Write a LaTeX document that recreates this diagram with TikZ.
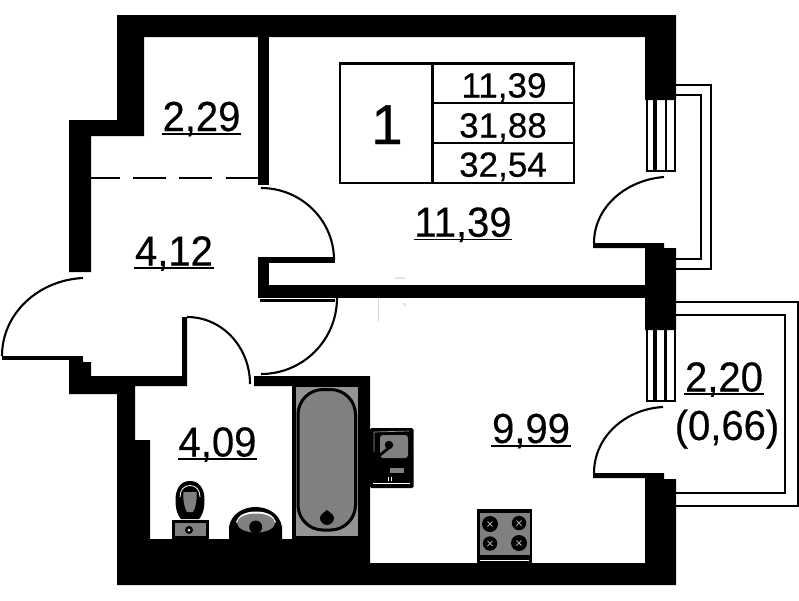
\documentclass[tikz,border=0pt]{standalone}
\usepackage{fontspec}
\setmainfont{Liberation Sans}[BoldFont={Liberation Sans},BoldFeatures={FakeBold=0.35}]
\newfontfamily\bigfont{Liberation Sans}[FakeBold=0.8]
\tikzset{
  wall/.style={fill=black,draw=none},
  doorarc/.style={draw=black,line width=2.1pt,fill=none},
  leaf/.style={fill=black,draw=none},
  balconyin/.style={draw=black,line width=2.4pt},
  balconyout/.style={draw=black,line width=2pt},
  gridline/.style={draw=black,line width=2.2pt},
  winthin/.style={draw=black,line width=2pt},
  winthick/.style={draw=black,line width=3.5pt},
  roomlabel/.style={inner sep=0pt,anchor=base,font=\fontsize{40}{40}\selectfont\bfseries},
  tablabel/.style={inner sep=0pt,anchor=base,font=\fontsize{35}{35}\selectfont\bfseries},
  ubar/.style={draw=black,line width=1.8pt},
  markx/.style={draw=black!35,line width=0.8pt},
}
\newcommand{\roombar}[1]{\draw[ubar] ([yshift=-2.8pt,xshift=-0.5pt]#1.base west) -- ([yshift=-2.8pt,xshift=0.5pt]#1.base east);}
\newcommand{\tallnum}[1]{\scalebox{1}[1.05]{#1}}
\begin{document}
\begin{tikzpicture}[x=1pt,y=-1pt]
\useasboundingbox[fill=white] (0,0) rectangle (799,600);
% faint marks
\draw[black!14,line width=0.8pt] (378,298) -- (378,322);
\fill[black!10] (395,277) rectangle (405,279);
\fill[black!10] (403,303) rectangle (406,306);
% balconies
\draw[balconyout] (676,85) -- (710.5,85) -- (710.5,268.5) -- (676,268.5);
\draw[balconyin] (676,95) -- (701,95) -- (701,259) -- (676,259);
\draw[balconyout] (676,302) -- (797.5,302) -- (797.5,505.5) -- (676,505.5);
\draw[balconyin] (676,315) -- (785,315) -- (785,493) -- (676,493);
% walls
\fill[wall] (117,15) -- (676,15) -- (676,100) -- (645,100) -- (645,37) -- (144,37) -- (144,136) -- (91,136) -- (91,272) -- (69,272) -- (69,120) -- (117,120) -- cycle;
\fill[wall] (258,37) rectangle (269,185);
\fill[wall] (258,257) rectangle (269,298);
\fill[leaf] (258,257) rectangle (335,263);
\fill[wall] (258,285) rectangle (645,297.5);
\fill[leaf] (260,299) rectangle (335,301.5);
\fill[wall] (593,243) -- (664,243) -- (664,248) -- (676,248) -- (676,330) -- (645,330) -- (645,248) -- (593,248) -- cycle;
\fill[wall] (593,473) -- (664,473) -- (664,479) -- (676,479) -- (676,585) -- (117,585) -- (117,394) -- (69,394) -- (69,360) -- (83,360) -- (83,362) -- (91,362) -- (91,376) -- (182,376) -- (182,317) -- (187,317) -- (187,386) -- (135,386) -- (135,440) -- (150,440) -- (150,539) -- (292,539) -- (292,386) -- (254,386) -- (254,376) -- (370,376) -- (370,563) -- (645,563) -- (645,478) -- (593,478) -- cycle;
\fill[leaf] (2,356) rectangle (83,360);
% dashed boundary
\foreach \a/\b in {91/120,133/166,179/212,226/258}{\fill[black] (\a,176.8) rectangle (\b,179.4);}
% door arcs
\draw[doorarc] (261,188) .. controls (301,188) and (334,220) .. (334,260);
\draw[doorarc] (337,298) .. controls (337,340) and (303,374) .. (261,374);
\draw[doorarc] (83,278) .. controls (39,280) and (2,313) .. (2,356);
\draw[doorarc] (187,317) .. controls (223,317) and (250,348) .. (250,384);
\draw[doorarc] (664,177) .. controls (626,180) and (594,207) .. (594,243);
\draw[doorarc] (663,407) .. controls (625,409) and (594,437) .. (594,473);
% windows
\draw[winthin] (647,100) -- (647,171) -- (675,171) -- (675,100);
\draw[winthick] (655,100) -- (655,170);
\draw[winthin,line width=2.5pt] (666,100) -- (666,170);
\draw[winthin] (647,330) -- (647,400.5) -- (675,400.5) -- (675,330);
\draw[winthick] (655,330) -- (655,400);
\draw[winthin,line width=2.5pt] (665.7,330) -- (665.7,400);
% table
\draw[gridline] (340,63.5) rectangle (574,183);
\draw[gridline,line width=3pt] (432,63.5) -- (432,183);
\draw[gridline] (432,103) -- (574,103);
\draw[gridline] (432,143) -- (574,143);
\node[inner sep=0pt,anchor=base,font=\fontsize{56}{56}\bigfont\selectfont] (tn) at (387,144) {1};
\node[tablabel] (t1) at (504,97.5) {11,39};
\node[tablabel] (t2) at (503,137.5) {31,88};
\node[tablabel] (t3) at (503,176.7) {32,54};
% room labels
\node[roomlabel] (r1) at (463,236.7) {\tallnum{11,39}}; \roombar{r1}
\node[roomlabel] (r2) at (201.5,131) {\tallnum{2,29}}; \roombar{r2}
\node[roomlabel] (r3) at (174,265.5) {\tallnum{4,12}}; \roombar{r3}
\node[roomlabel] (r4) at (217.5,456.5) {\tallnum{4,09}}; \roombar{r4}
\node[roomlabel] (r5) at (531,443) {\tallnum{9,99}}; \roombar{r5}
\node[roomlabel] (r6) at (724,391.5) {\tallnum{2,20}}; \roombar{r6}
\node[roomlabel] (r7) at (727,440) {\tallnum{(0,66)}};
% bath
\fill[black!42] (295,387) rectangle (358,536);
\fill[black] (292,386) rectangle (296,539);
\draw[black,line width=3pt,fill=black!50,rounded corners=25pt] (298,389.5) rectangle (355.5,530);
\fill[black] (327,510) .. controls (329,512) and (334,514) .. (334,518) .. controls (334,522) and (330,525) .. (327,525) .. controls (324,525) and (320,522) .. (320,518) .. controls (320,514) and (325,512) .. (327,510) -- cycle;
% toilet
\fill[black] (175.5,500) .. controls (175.5,488) and (181,481) .. (190,481) .. controls (199,481) and (204.5,488) .. (204.5,500) .. controls (204.5,510) and (202,516) .. (199,519) -- (181,519) .. controls (178,516) and (175.5,510) .. (175.5,500) -- cycle;
\draw[white,line width=0.8pt] (180,497) .. controls (180,490) and (184,485.5) .. (190,485.5) .. controls (196,485.5) and (200,490) .. (200,497);
\fill[black!50] (183.5,492) -- (196.5,492) .. controls (197.5,500) and (195,509) .. (193,512) -- (187,512) .. controls (185,509) and (182.5,500) .. (183.5,492) -- cycle;
\draw[black,line width=3pt,fill=black!50] (173.5,521.5) rectangle (207,537.5);
\fill[black] (189,530) circle (4);
\fill[white] (189,530) circle (1.5);
% wash basin
\fill[black] (229,539) -- (229,527) .. controls (231,514) and (243,507) .. (255.5,507) .. controls (268,507) and (280,514) .. (282,527) -- (282,539) -- cycle;
\fill[white] (236,522) .. controls (238,515) and (246,511.5) .. (256,511.5) .. controls (266,511.5) and (274,515) .. (276,522) .. controls (274,527) and (238,527) .. (236,522) -- cycle;
\fill[black!50] (256,523) ellipse [x radius=19,y radius=9.5];
\fill[black] (255.7,527) circle (6.5);
% kitchen sink
\fill[black,rounded corners=1.5pt] (370,428) rectangle (413.5,488);
\draw[black!40,line width=0.7pt] (374,452) -- (374,432) -- (409,431);
\fill[black!50,rounded corners=3pt] (380,435) rectangle (408,458);
\fill[black] (389,445) circle (4.2);
\draw[black,line width=2.8pt] (375,459) -- (390,447);
\fill[black!50] (390,468) rectangle (403.5,473);
\draw[white,line width=0.6pt] (373,483.5) -- (410,483.5);
\draw[white,line width=0.6pt] (388,477) -- (388,481);
\draw[white,line width=0.6pt] (391,477) -- (391,481);
% stove
\fill[black] (477,509) rectangle (532,563);
\fill[black!50] (480,513) rectangle (529.5,555);
\fill[white] (480,560) rectangle (529,561.2);
\foreach \x/\y/\r in {490/524/8,519/523/7.2,490/543.5/7.2,519/543/8}{
  \fill[black] (\x,\y) circle (\r);
  \draw[markx] (\x-2.5,\y-2.5) -- (\x+2.5,\y+2.5);
  \draw[markx] (\x-2.5,\y+2.5) -- (\x+2.5,\y-2.5);
}
\end{tikzpicture}
\end{document}
